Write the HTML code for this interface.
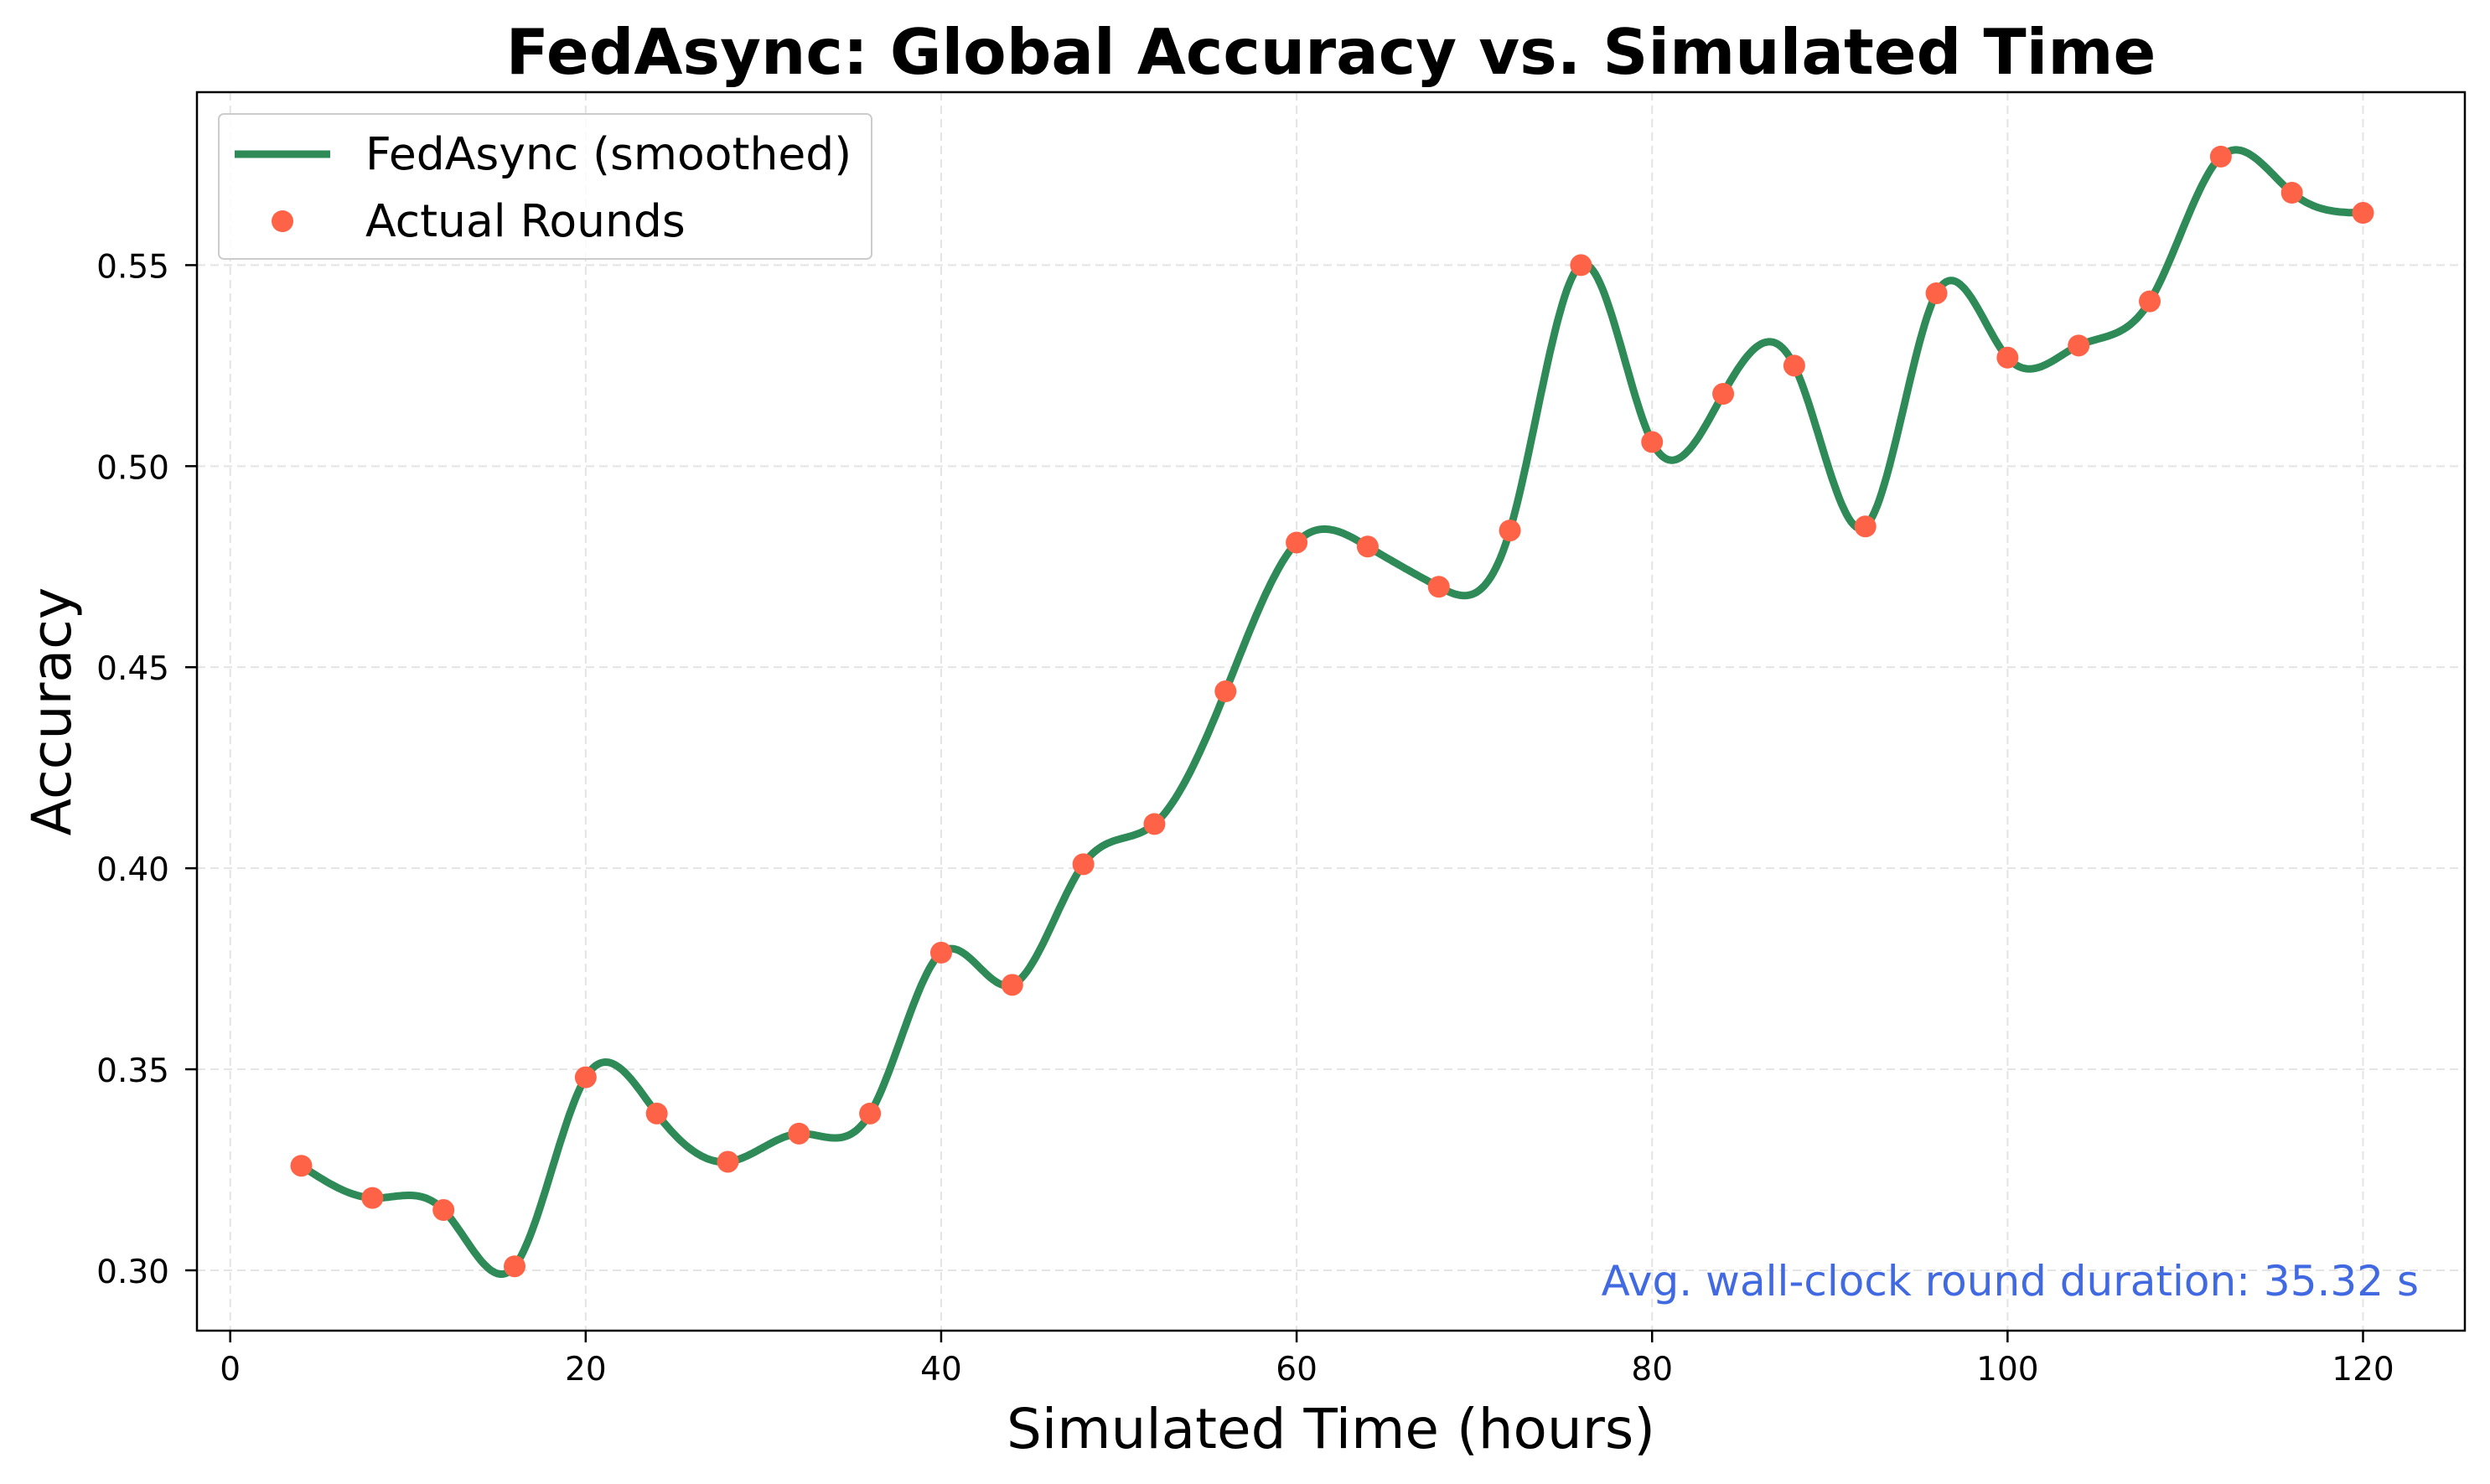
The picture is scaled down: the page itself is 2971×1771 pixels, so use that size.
<!DOCTYPE html>
<html><head><meta charset="utf-8"><style>
body{margin:0;background:#fff}
svg{display:block;font-family:"DejaVu Sans","Liberation Sans",sans-serif}
</style></head><body>
<svg id="chart" width="2971" height="1771" xmlns="http://www.w3.org/2000/svg">
<rect width="2971" height="1771" fill="#fff"/>
<g id="grid"></g>
<path id="curve" fill="none" stroke="#2e8b57" stroke-width="9" stroke-linejoin="round"/>
<g id="points"></g>
<rect x="235" y="110" width="2706" height="1478" fill="none" stroke="#000" stroke-width="2.5"/>
<g id="ticks" font-size="39"></g>
<text x="1588" y="88" text-anchor="middle" font-size="75" font-weight="bold">FedAsync: Global Accuracy vs. Simulated Time</text>
<text x="1588" y="1728" text-anchor="middle" font-size="66">Simulated Time (hours)</text>
<text transform="translate(84,849) rotate(-90)" text-anchor="middle" font-size="65">Accuracy</text>
<text x="2886" y="1546" text-anchor="end" font-size="50" fill="#4169e1">Avg. wall-clock round duration: 35.32 s</text>
<g>
<rect x="261" y="136" width="779" height="173" rx="6" fill="#fff" fill-opacity="0.8" stroke="#ccc" stroke-width="2"/>
<line x1="280" y1="184" x2="394" y2="184" stroke="#2e8b57" stroke-width="9"/>
<text x="436" y="202" font-size="53.5">FedAsync (smoothed)</text>
<circle cx="337" cy="264" r="13" fill="#ff6347"/>
<text x="436" y="282" font-size="53.5">Actual Rounds</text>
</g>
</svg>
<script>
const times=[4,8,12,16,20,24,28,32,36,40,44,48,52,56,60,64,68,72,76,80,84,88,92,96,100,104,108,112,116,120];
const accuracy=[0.326,0.318,0.315,0.301,0.348,0.339,0.327,0.334,0.339,0.379,0.371,0.401,0.411,0.444,0.481,0.480,0.470,0.484,0.550,0.506,0.518,0.525,0.485,0.543,0.527,0.530,0.541,0.577,0.568,0.563];
const xTicks=[0,20,40,60,80,100,120];
const yTicks=[0.30,0.35,0.40,0.45,0.50,0.55];
const NS="http://www.w3.org/2000/svg";
const X=v=>274.7+v*(2819.5-274.7)/120;
const Y=v=>1516-(v-0.30)*(1516-316.4)/0.25;
const grid=document.getElementById('grid'),ticks=document.getElementById('ticks');
function mk(t,a,p){const e=document.createElementNS(NS,t);for(const k in a)e.setAttribute(k,a[k]);p.appendChild(e);return e;}
xTicks.forEach(t=>{
 const g=mk('line',{x1:X(t),x2:X(t),y1:110,y2:1588,stroke:'#e4e4e4','stroke-width':2,'stroke-dasharray':'10,6'},grid);
 
 
 const tk=mk('line',{x1:X(t),x2:X(t),y1:1588,y2:1602,stroke:'#000','stroke-width':2.5},ticks);
 
 
 const l=mk('text',{x:X(t),y:1647,'text-anchor':'middle'},ticks);l.textContent=t;
 
 
});
yTicks.forEach(t=>{
 const g=mk('line',{x1:235,x2:2941,y1:Y(t),y2:Y(t),stroke:'#e4e4e4','stroke-width':2,'stroke-dasharray':'10,6'},grid);
 
 
 const tk=mk('line',{x1:221,x2:235,y1:Y(t),y2:Y(t),stroke:'#000','stroke-width':2.5},ticks);
 
 
 const l=mk('text',{x:202,y:Y(t)+15,'text-anchor':'end'},ticks);l.textContent=t.toFixed(2);
 
 
});
const n=times.length,h=[],al=[],l=[1],mu=[0],z=[0],c=new Array(n).fill(0),b=[],d=[];
for(let i=0;i<n-1;i++)h[i]=times[i+1]-times[i];
for(let i=1;i<n-1;i++)al[i]=3/h[i]*(accuracy[i+1]-accuracy[i])-3/h[i-1]*(accuracy[i]-accuracy[i-1]);
for(let i=1;i<n-1;i++){l[i]=2*(times[i+1]-times[i-1])-h[i-1]*mu[i-1];mu[i]=h[i]/l[i];z[i]=(al[i]-h[i-1]*z[i-1])/l[i];}
l[n-1]=1;z[n-1]=0;
for(let j=n-2;j>=0;j--){c[j]=z[j]-mu[j]*c[j+1];b[j]=(accuracy[j+1]-accuracy[j])/h[j]-h[j]*(c[j+1]+2*c[j])/3;d[j]=(c[j+1]-c[j])/(3*h[j]);}
let p='';
for(let i=0;i<n-1;i++)for(let s=0;s<=30;s++){const dx=h[i]*s/30,v=accuracy[i]+b[i]*dx+c[i]*dx*dx+d[i]*dx*dx*dx;p+=(p?'L':'M')+X(times[i]+dx).toFixed(1)+','+Y(v).toFixed(1);}
document.getElementById('curve').setAttribute('d',p);
const pts=document.getElementById('points');
times.forEach((t,i)=>{const c=mk('circle',{cx:X(t),cy:Y(accuracy[i]),r:13,fill:'#ff6347'},pts);
 
 });
</script>
</body></html>
